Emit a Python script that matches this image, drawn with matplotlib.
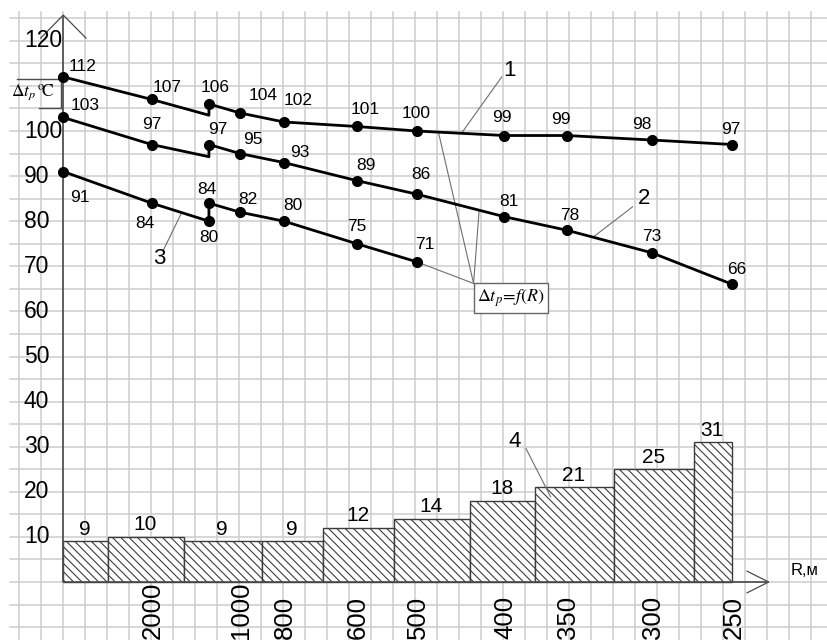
import matplotlib
matplotlib.use("Agg")
import matplotlib.pyplot as plt

plt.rcParams["font.family"] = ["Liberation Sans", "DejaVu Sans"]
plt.rcParams["mathtext.fontset"] = "stix"
plt.rcParams["hatch.linewidth"] = 0.8

# ---- data -------------------------------------------------------------
# positions of the radius marks along the horizontal axis (grid cells)
x_pos = [0.0, 4.02, 6.62, 8.03, 10.03, 13.34, 16.06, 20.05, 22.89, 26.75, 30.41]
radius_labels = ["", "2000", "", "1000", "800", "600", "500", "400", "350", "300", "250"]

# curve 1
c1_before = [112, 107]
c1_step = 103.5
c1_after = [106, 104, 102, 101, 100, 99, 99, 98, 97]
# curve 2
c2_before = [103, 97]
c2_step = 94.3
c2_after = [97, 95, 93, 89, 86, 81, 78, 73, 66]
# curve 3
c3_before = [91, 84]
c3_step = 80
c3_after = [84, 82, 80, 75, 71]

# histogram (curve 4)
bar_edges = [0.0, 2.045, 5.47, 9.05, 11.82, 15.05, 18.49, 21.44, 25.045, 28.67, 30.41]
bar_vals = [9, 10, 9, 9, 12, 14, 18, 21, 25, 31]

y_ticks = [10, 20, 30, 40, 50, 60, 70, 80, 90, 100, 120]

# ---- layout ---------------------------------------------------------------
W, H = 827, 640
CELL, UNIT = 22.0, 4.51       # pixels per grid cell / per degree
X0, Y0 = 63.3, 582.0          # pixel position of the origin

fig = plt.figure(figsize=(W / 100, H / 100), dpi=100)
ax = fig.add_axes([0, 0, 1, 1])
ax.set_xlim(-X0 / CELL, (W - X0) / CELL)
ax.set_ylim(-(H - Y0) / UNIT, Y0 / UNIT)
ax.axis("off")

xl, xr = ax.get_xlim()
yb, yt = ax.get_ylim()

# squared paper
grid_kw = dict(color="#cdcdcd", lw=1.1, zorder=0)
for k in range(-2, 35):
    ax.plot([k, k], [yb, 126.4], **grid_kw)
for v in range(-10, 126, 5):
    ax.plot([-2.42, xr], [v, v], **grid_kw)

# axes with arrows
axis_kw = dict(color="#4a4a4a", lw=1.2, zorder=3, solid_capstyle="butt")
ax.plot([0, 0], [0, 125.7], **axis_kw)
ax.plot([-1.03, 0, 1.03], [120.6, 125.7, 120.6], color="#4a4a4a", lw=0.9, zorder=3)
ax.plot([0, 32.06], [0, 0], **axis_kw)
ax.plot([31.08, 32.06, 31.08], [2.4, 0, -2.4], color="#4a4a4a", lw=0.9, zorder=3)

# histogram
widths = [b - a for a, b in zip(bar_edges[:-1], bar_edges[1:])]
ax.bar(bar_edges[:-1], bar_vals, width=widths, align="edge", facecolor="white",
       edgecolor="#3c3c3c", linewidth=1.0, hatch="\\\\\\\\", zorder=2)
for a, w, v in zip(bar_edges[:-1], widths, bar_vals):
    ax.annotate(str(v), (a + w / 2, v), xytext=(-1, 12), textcoords="offset pixels",
                ha="center", va="center", fontsize=15, zorder=6)

# curves
line_kw = dict(color="black", lw=2.0, zorder=4, solid_joinstyle="round")
mark_kw = dict(color="black", marker="o", ms=7, ls="none", zorder=5)

def draw_curve(before, step, after, mark_step):
    n_after = len(after)
    xs = x_pos[:2] + [x_pos[2]] + x_pos[2:2 + n_after]
    ys = before + [step] + after
    ax.plot(xs, ys, **line_kw)
    mx = x_pos[:2] + ([x_pos[2]] if mark_step else []) + x_pos[2:2 + n_after]
    my = before + ([step] if mark_step else []) + after
    ax.plot(mx, my, **mark_kw)
    return mx, my

def label_points(mx, my, offsets):
    for x, y, (dx, dy) in zip(mx, my, offsets):
        ax.annotate(f"{y:g}", (x, y), xytext=(dx, -dy), textcoords="offset pixels",
                    ha="center", va="center", fontsize=12.5, zorder=6)

m1 = draw_curve(c1_before, c1_step, c1_after, False)
label_points(*m1, [(19, -10), (15, -12), (6, -16), (23, -17), (14, -21), (8, -17),
                   (0, -18), (-3, -18), (-6, -16), (-10, -16), (-2, -15)])
m2 = draw_curve(c2_before, c2_step, c2_after, False)
label_points(*m2, [(22, -12), (0, -20), (9, -15), (13, -14), (16, -10), (9, -15),
                   (4, -20), (5, -15), (3, -15), (0, -16), (4, -15)])
m3 = draw_curve(c3_before, c3_step, c3_after, True)
label_points(*m3, [(17, 26), (-7, 20), (0, 16), (-2, -14), (8, -13), (9, -16),
                   (0, -17), (8, -17)])

# numbered callouts
lead_kw = dict(color="#6e6e6e", lw=0.8, zorder=3)
callouts = [("1", (20.3, 113.5), (19.93, 112.0), (18.1, 99.5)),
            ("2", (26.4, 85.1), (25.88, 83.2), (24.09, 76.5)),
            ("3", (4.35, 71.8), (4.55, 73.6), (5.38, 81.9)),
            ("4", (20.53, 31.1), (21.03, 29.6), (22.15, 18.9))]
for txt, pos, p0, p1 in callouts:
    ax.text(*pos, txt, ha="center", va="center", fontsize=16, zorder=6)
    ax.plot([p0[0], p1[0]], [p0[1], p1[1]], **lead_kw)

# function label with leaders to the three curves
corner = (18.65, 66.2)
for tx, ty in [(17.05, 99.75), (18.9, 82.3), (x_pos[6], c3_after[-1])]:
    ax.plot([corner[0], tx], [corner[1], ty], **lead_kw)
ax.text(20.35, 63.0, r"$\Delta t_p\!=\!f(R)$", ha="center", va="center", fontsize=13,
        zorder=6)
ax.add_patch(plt.Rectangle((18.65, 59.7), 3.4, 6.5, fc="white", ec="#666666",
                           lw=1.0, zorder=5))

# y-axis caption
ax.plot([-2.12, 0], [111.5, 111.5], color="#4a4a4a", lw=1.0, zorder=3)
ax.plot([-0.118, -0.118], [111.5, 105.0], color="#4a4a4a", lw=1.0, zorder=3)
ax.plot([-1.09, -0.118], [105.0, 105.0], color="#4a4a4a", lw=1.0, zorder=3)
ax.text(-1.38, 108.5, r"$\Delta t_p{}^{\,\mathrm{o}}\!\mathrm{C}$", ha="center",
        va="center", fontsize=12.5, zorder=6)

# tick labels
for v in y_ticks:
    ax.text(-1.79, v, str(v), ha="left", va="center", fontsize=16.5, zorder=6)
for x, lab in zip(x_pos, radius_labels):
    if lab:
        ax.text(x + 0.05, yb + 0.3, lab, rotation=90, ha="center", va="bottom",
                fontsize=18.5, zorder=6)
ax.text(33.7, 2.66, "R,м", ha="center", va="center", fontsize=12, zorder=6)

fig.savefig("out.png", dpi=100)
